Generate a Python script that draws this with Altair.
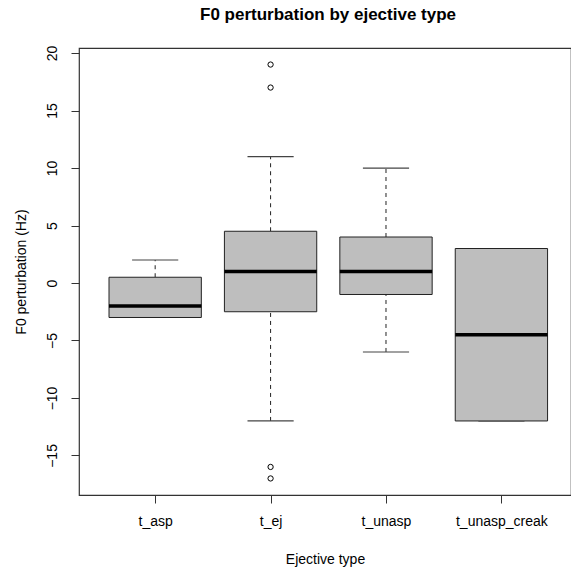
import altair as alt
import pandas as pd

# Box-plot summaries for each ejective type (Hz)
categories = ["t_asp", "t_ej", "t_unasp", "t_unasp_creak"]
whisker_low = [-3, -12, -6, -12]
q1 = [-3, -2.5, -1, -12]
median = [-2, 1, 1, -4.5]
q3 = [0.5, 4.5, 4, 3]
whisker_high = [2, 11, 10, 3]

# Points beyond the whiskers
outlier_cat = ["t_ej", "t_ej", "t_ej", "t_ej"]
outlier_val = [19, 17, -16, -17]

y_ticks = [-15, -10, -5, 0, 5, 10, 15, 20]

summary = pd.DataFrame({
    "type": categories,
    "pos": list(range(1, len(categories) + 1)),
    "lo": whisker_low,
    "q1": q1,
    "med": median,
    "q3": q3,
    "hi": whisker_high,
})
outliers = pd.DataFrame({
    "type": outlier_cat,
    "pos": [categories.index(c) + 1 for c in outlier_cat],
    "val": outlier_val,
})

label_expr = "[" + ",".join(f"'{c}'" for c in categories) + "][datum.value - 1]"

x_scale = alt.Scale(domain=[0.34, 4.603], nice=False, zero=False)
y_scale = alt.Scale(domain=[-18.44, 20.44], nice=False, zero=False)

x_axis = alt.Axis(
    values=list(range(1, len(categories) + 1)), labelExpr=label_expr,
    title="Ejective type", grid=False, domain=False,
    tickSize=8, tickColor="#333", labelPadding=11, titlePadding=24,
)
y_axis = alt.Axis(
    values=y_ticks, title="F0 perturbation (Hz)", grid=False, domain=False,
    tickSize=8, tickColor="#333", labelAngle=-90, labelAlign="center",
    labelBaseline="bottom", labelPadding=12, titlePadding=17,
)

base = alt.Chart(summary).transform_calculate(
    box_l="datum.pos - 0.4", box_r="datum.pos + 0.4",
    cap_l="datum.pos - 0.2", cap_r="datum.pos + 0.2",
)

whisk_up = base.mark_rule(color="#222", strokeDash=[4, 4], strokeWidth=1).encode(
    x=alt.X("pos:Q", scale=x_scale, axis=x_axis),
    y=alt.Y("q3:Q", scale=y_scale, axis=y_axis),
    y2="hi:Q",
)
whisk_dn = base.mark_rule(color="#222", strokeDash=[4, 4], strokeWidth=1).encode(
    x="pos:Q", y="lo:Q", y2="q1:Q",
)
cap_hi = base.mark_rule(color="#444", strokeWidth=1.2).encode(
    x="cap_l:Q", x2="cap_r:Q", y="hi:Q",
)
cap_lo = base.mark_rule(color="#444", strokeWidth=1.2).encode(
    x="cap_l:Q", x2="cap_r:Q", y="lo:Q",
)
boxes = base.mark_rect(fill="#BEBEBE", stroke="#222", strokeWidth=1).encode(
    x="box_l:Q", x2="box_r:Q", y="q1:Q", y2="q3:Q",
)
medians = base.mark_rule(color="black", strokeWidth=3.5).encode(
    x="box_l:Q", x2="box_r:Q", y="med:Q",
)
points = alt.Chart(outliers).mark_point(
    shape="circle", filled=False, size=28, color="black", strokeWidth=1, opacity=1,
).encode(x="pos:Q", y="val:Q")

chart = alt.layer(
    whisk_up, whisk_dn, cap_hi, cap_lo, boxes, medians, points
).properties(
    width=492,
    height=447,
    padding={"left": 79, "top": 48, "right": 0, "bottom": 76},
    autosize=alt.AutoSizeParams(type="none"),
    background="white",
    title=alt.TitleParams(
        "F0 perturbation by ejective type", anchor="middle", frame="group",
        fontSize=17, fontWeight="bold", font="Liberation Sans", color="black",
        offset=21, dx=3,
    ),
).configure_view(
    stroke="#333", strokeWidth=1.2,
).configure_axis(
    labelFont="Liberation Sans", titleFont="Liberation Sans",
    labelFontSize=14, titleFontSize=14, labelColor="black", titleColor="black",
    titleFontWeight="normal",
)

chart.save("out.html", embed_options={"renderer": "svg", "actions": False})
